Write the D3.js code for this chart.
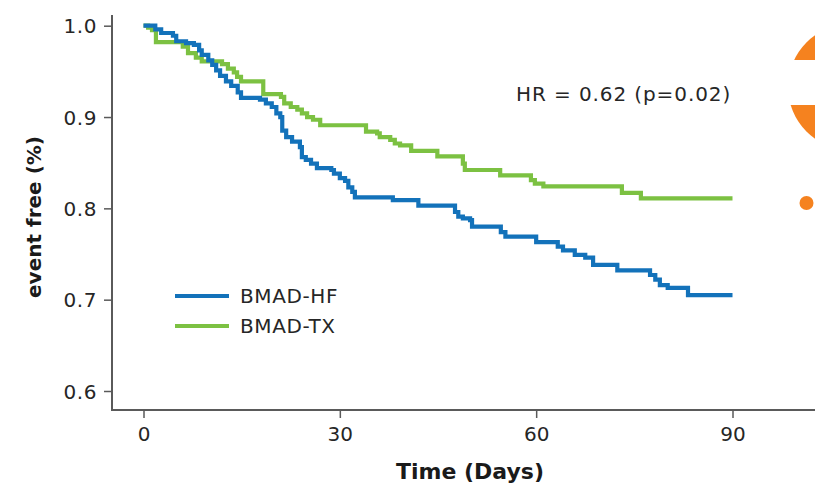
<!DOCTYPE html>
<html>
<head>
<meta charset="utf-8">
<script src="https://cdn.jsdelivr.net/npm/d3@7"></script>
<style>
  html, body { margin: 0; padding: 0; background: #fff; }
  svg { display: block; }
  text { font-family: "DejaVu Sans", sans-serif; }
</style>
</head>
<body>
<svg id="chart" width="815" height="489"></svg>
<script>
// ---- data ----
const seriesNames = ["BMAD-HF", "BMAD-TX"];
const seriesColors = ["#1372ba", "#7cc142"];

// Kaplan-Meier step points: time (days) and event-free proportion
const hfTime = [0, 1.8, 2.7, 4.5, 5.0, 6.5, 7.7, 8.5, 8.9, 9.9, 10.5, 11.1, 11.7, 12.6, 13.4, 14.4, 14.9,
  17.8, 18.7, 19.6, 20.3, 20.9, 21.2, 21.8, 22.7, 23.9, 24.2, 24.8, 25.6, 26.5, 28.7, 29.1, 30.0,
  30.8, 31.3, 31.9, 32.3, 38.1, 42.0, 47.6, 48.1, 48.8, 49.9, 50.2, 54.6, 55.3, 60.0, 63.3, 64.1,
  65.9, 67.5, 68.7, 72.4, 77.4, 78.2, 78.9, 80.1, 83.2, 90];
const hfSurv = [1.0, 0.996, 0.992, 0.989, 0.983, 0.981, 0.979, 0.973, 0.968, 0.962, 0.957, 0.951, 0.945,
  0.939, 0.934, 0.927, 0.921, 0.919, 0.915, 0.911, 0.904, 0.900, 0.885, 0.878, 0.873, 0.867, 0.856,
  0.853, 0.849, 0.844, 0.842, 0.838, 0.833, 0.830, 0.823, 0.818, 0.812, 0.809, 0.803, 0.796, 0.791,
  0.789, 0.787, 0.780, 0.774, 0.769, 0.763, 0.758, 0.754, 0.749, 0.746, 0.738, 0.732, 0.727, 0.722,
  0.716, 0.713, 0.705, 0.705];

const txTime = [0, 0.7, 1.3, 1.9, 6.0, 6.8, 8.0, 8.9, 12.0, 12.9, 13.8, 14.3, 14.9, 18.3, 21.0, 21.5,
  22.5, 23.5, 24.2, 25.0, 25.9, 27.0, 34.0, 35.7, 36.1, 37.7, 38.4, 39.2, 40.9, 44.9, 48.8, 49.1,
  54.5, 59.2, 59.8, 61.1, 73.1, 76.0, 90];
const txSurv = [1.0, 0.998, 0.995, 0.982, 0.977, 0.970, 0.965, 0.961, 0.958, 0.953, 0.949, 0.944, 0.939,
  0.925, 0.922, 0.915, 0.911, 0.908, 0.904, 0.900, 0.897, 0.891, 0.884, 0.882, 0.878, 0.875, 0.871,
  0.869, 0.863, 0.857, 0.849, 0.842, 0.836, 0.831, 0.827, 0.824, 0.817, 0.811, 0.811];

const xTicks = [0, 30, 60, 90];
const yTicks = [0.6, 0.7, 0.8, 0.9, 1.0];
const xTitle = "Time (Days)";
const yTitle = "event free (%)";
const annotation = "HR = 0.62 (p=0.02)";

// ---- layout ----
const svg = d3.select("#chart");
const x = d3.scaleLinear().domain([0, 90]).range([143.5, 732.5]);
const y = d3.scaleLinear().domain([0.6, 1.0]).range([391, 25.7]);
const axisX0 = 112, axisY0 = 410, axisTop = 15;
const axisColor = "#5a5a5a";
const textColor = "#262626";
const bodyFont = "'DejaVu Sans', sans-serif";

// decorative orange mark on the right edge
const deco = svg.append("g");
const clip = svg.append("clipPath").attr("id", "decoClip");
clip.append("rect").attr("x", 700).attr("y", 0).attr("width", 200).attr("height", 60);
clip.append("rect").attr("x", 700).attr("y", 105).attr("width", 200).attr("height", 100);
deco.append("circle").attr("cx", 851).attr("cy", 87).attr("r", 63)
  .attr("fill", "#f5821f").attr("clip-path", "url(#decoClip)");
deco.append("circle").attr("cx", 806.5).attr("cy", 203).attr("r", 7).attr("fill", "#f5821f");

// axes lines
svg.append("line").attr("x1", axisX0).attr("x2", axisX0).attr("y1", axisTop).attr("y2", axisY0 + 1)
  .attr("stroke", axisColor).attr("stroke-width", 2);
svg.append("line").attr("x1", axisX0 - 1).attr("x2", 815).attr("y1", axisY0).attr("y2", axisY0)
  .attr("stroke", axisColor).attr("stroke-width", 2);

// y axis ticks
const yAxis = d3.axisLeft(y).tickValues(yTicks).tickFormat(d3.format(".1f")).tickSize(8).tickPadding(7);
const gy = svg.append("g").attr("transform", `translate(${axisX0},0)`).call(yAxis);
gy.select(".domain").remove();
gy.selectAll(".tick line").attr("stroke", axisColor).attr("stroke-width", 1.5);
gy.selectAll(".tick text").attr("fill", textColor).style("font-size", "20px")
  .style("font-family", bodyFont).style("letter-spacing", "0.6px").attr("dy", "0.36em");

// x axis ticks
const xAxis = d3.axisBottom(x).tickValues(xTicks).tickFormat(d3.format("d")).tickSize(8).tickPadding(9);
const gx = svg.append("g").attr("transform", `translate(0,${axisY0})`).call(xAxis);
gx.select(".domain").remove();
gx.selectAll(".tick line").attr("stroke", axisColor).attr("stroke-width", 1.5);
gx.selectAll(".tick text").attr("fill", textColor).style("font-size", "20px")
  .style("font-family", bodyFont).attr("dy", "0.71em");

// axis titles
svg.append("text").attr("x", 470).attr("y", 479).attr("text-anchor", "middle")
  .attr("fill", "#1a1a1a").style("font-size", "22px").style("font-weight", "bold")
  .style("font-family", bodyFont).text(xTitle);
svg.append("text").attr("transform", "translate(41,217) rotate(-90)").attr("text-anchor", "middle")
  .attr("fill", "#1a1a1a").style("font-size", "20px").style("font-weight", "bold")
  .style("font-family", bodyFont).text(yTitle);

// curves
const line = d3.line().curve(d3.curveStepAfter).x(d => x(d[0])).y(d => y(d[1]));
const hfData = hfTime.map((t, i) => [t, hfSurv[i]]);
const txData = txTime.map((t, i) => [t, txSurv[i]]);
svg.append("path").datum(txData).attr("d", line).attr("fill", "none")
  .attr("stroke", seriesColors[1]).attr("stroke-width", 4.2).attr("stroke-linejoin", "miter");
svg.append("path").datum(hfData).attr("d", line).attr("fill", "none")
  .attr("stroke", seriesColors[0]).attr("stroke-width", 4.2).attr("stroke-linejoin", "miter");

// annotation
svg.append("text").attr("x", 516).attr("y", 101).attr("fill", textColor)
  .style("font-size", "20px").style("letter-spacing", "0.9px")
  .style("font-family", bodyFont).text(annotation);

// legend
const legY = [296, 326];
seriesNames.forEach((name, i) => {
  svg.append("line").attr("x1", 175).attr("x2", 229).attr("y1", legY[i]).attr("y2", legY[i])
    .attr("stroke", seriesColors[i]).attr("stroke-width", 4.2);
  svg.append("text").attr("x", 240).attr("y", legY[i]).attr("dy", "0.36em").attr("fill", textColor)
    .style("font-size", "20px").style("letter-spacing", "0.6px")
    .style("font-family", bodyFont).text(name);
});
</script>
</body>
</html>
